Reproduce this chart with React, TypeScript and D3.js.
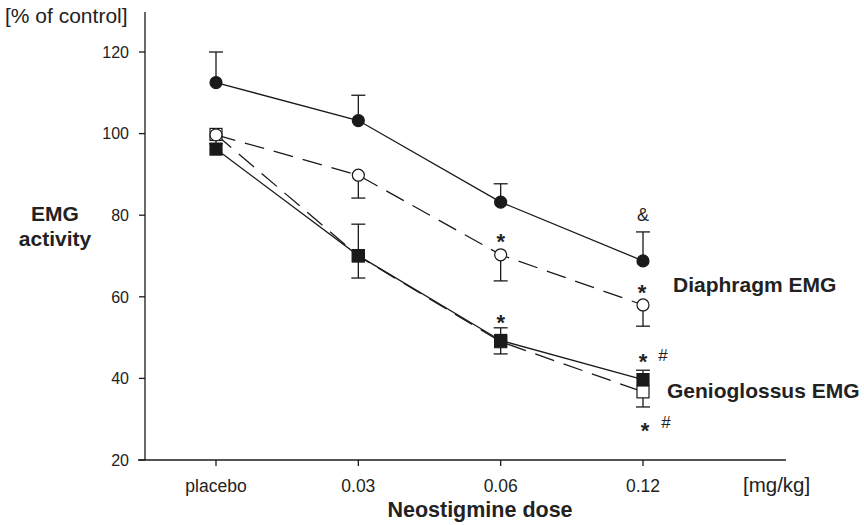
import React from "react";
import * as d3 from "d3";

const categories = ["placebo", "0.03", "0.06", "0.12"];
const yTicks = [20, 40, 60, 80, 100, 120];

// Diaphragm EMG (filled circles, solid line), upper SEM
const diaFilled = [112.5, 103.2, 83.2, 68.8];
const diaFilledUp = [120, 109.4, 87.7, 75.9];
// Diaphragm EMG (open circles, dashed line), lower SEM
const diaOpen = [99.7, 89.8, 70.3, 58.0];
const diaOpenDown = [97.5, 84.2, 63.9, 52.8];
// Genioglossus EMG (filled squares, solid line), upper SEM
const genFilled = [96.2, 70.1, 49.3, 39.7];
const genFilledUp = [96.2, 77.8, 52.4, 42.0];
// Genioglossus EMG (open squares, dashed line), lower SEM
const genOpen = [99.8, 70.0, 49.0, 36.7];
const genOpenDown = [99.8, 64.6, 46.0, 33.0];

const annotations = [
  { cat: "0.06", value: 74.5, text: "*", dx: 0 },
  { cat: "0.12", value: 62.0, text: "*", dx: -1 },
  { cat: "0.06", value: 54.6, text: "*", dx: 0 },
  { cat: "0.12", value: 80.0, text: "&", dx: 0 },
  { cat: "0.12", value: 45.0, text: "*", dx: 0 },
  { cat: "0.12", value: 28.2, text: "*", dx: 2 },
];
const hashes = [
  { cat: "0.12", value: 45.8, text: "#", dx: 20 },
  { cat: "0.12", value: 29.2, text: "#", dx: 23 },
];

const FONT = "'Liberation Sans', Arial, Helvetica, sans-serif";

export default function App() {
  const x = d3.scalePoint<string>().domain(categories).range([216, 643]);
  const y = d3.scaleLinear().domain([20, 120]).range([460, 52]);
  const axisTop = 12;
  const axisX = 145;
  const line = d3
    .line<number>()
    .x((_, i) => x(categories[i]) as number)
    .y((d) => y(d));

  const stroke = "#1a1a1a";
  const txt = "#222";
  const lw = 1.3;
  const dash = "20,10";

  const errBars = (vals: number[], ends: number[], key: string) =>
    vals.map((v, i) => {
      const cx = x(categories[i]) as number;
      if (Math.abs(ends[i] - v) < 0.01) return null;
      return (
        <g key={key + i}>
          <line x1={cx} x2={cx} y1={y(v)} y2={y(ends[i])} stroke={stroke} strokeWidth={lw} />
          <line x1={cx - 7} x2={cx + 7} y1={y(ends[i])} y2={y(ends[i])} stroke={stroke} strokeWidth={lw} />
        </g>
      );
    });

  return (
    <svg
      width={864}
      height={525}
      style={{ position: "absolute", left: 0, top: 0, background: "#fff" }}
      fontFamily={FONT}
    >
      {/* axes */}
      <line x1={axisX} x2={axisX} y1={axisTop} y2={460} stroke={stroke} strokeWidth={1.3} />
      <line x1={138} x2={786} y1={460} y2={460} stroke={stroke} strokeWidth={1.3} />
      {yTicks.map((t) => (
        <g key={"yt" + t}>
          <line x1={axisX - 6} x2={axisX} y1={y(t)} y2={y(t)} stroke={stroke} strokeWidth={1.3} />
          <text x={axisX - 16} y={y(t) + 5.8} textAnchor="end" fontSize={16} fill={txt}>
            {t}
          </text>
        </g>
      ))}
      {categories.map((c) => (
        <g key={"xt" + c}>
          <line x1={x(c)} x2={x(c)} y1={460} y2={466} stroke={stroke} strokeWidth={1.3} />
          <text x={x(c)} y={492} textAnchor="middle" fontSize={17.5} fill={txt}>
            {c}
          </text>
        </g>
      ))}
      <text x={743} y={492} fontSize={20.5} fill={txt}>[mg/kg]</text>
      <text x={480} y={517} textAnchor="middle" fontSize={21.5} fontWeight="bold" fill={txt}>
        Neostigmine dose
      </text>
      <text x={5} y={23} fontSize={21} fill={txt}>[% of control]</text>
      <text x={55} y={221} textAnchor="middle" fontSize={21} fontWeight="bold" fill={txt}>EMG</text>
      <text x={55} y={246} textAnchor="middle" fontSize={21} fontWeight="bold" fill={txt}>activity</text>
      <text x={673} y={292} fontSize={21} fontWeight="bold" fill={txt}>
        Diaphragm EMG
      </text>
      <text x={667} y={398} fontSize={21} fontWeight="bold" fill={txt}>
        Genioglossus EMG
      </text>

      {/* error bars */}
      {errBars(diaFilled, diaFilledUp, "dfu")}
      {errBars(diaOpen, diaOpenDown, "dod")}
      {errBars(genFilled, genFilledUp, "gfu")}
      {errBars(genOpen, genOpenDown, "god")}

      {/* lines */}
      <path d={line(diaFilled) || ""} fill="none" stroke={stroke} strokeWidth={lw} />
      <path d={line(diaOpen) || ""} fill="none" stroke={stroke} strokeWidth={lw} strokeDasharray={dash} />
      <path d={line(genFilled) || ""} fill="none" stroke={stroke} strokeWidth={lw} />
      <path d={line(genOpen) || ""} fill="none" stroke={stroke} strokeWidth={lw} strokeDasharray={dash} />

      {/* markers */}
      {genOpen.map((v, i) => (
        <rect key={"go" + i} x={(x(categories[i]) as number) - 6} y={y(v) - 6} width={12} height={12}
          fill="#fff" stroke={stroke} strokeWidth={1.2} />
      ))}
      {genFilled.map((v, i) => (
        <rect key={"gf" + i} x={(x(categories[i]) as number) - 6} y={y(v) - 6} width={12} height={12}
          fill={stroke} stroke={stroke} strokeWidth={1.2} />
      ))}
      {diaOpen.map((v, i) => (
        <circle key={"do" + i} cx={x(categories[i])} cy={y(v)} r={6} fill="#fff" stroke={stroke} strokeWidth={1.2} />
      ))}
      {diaFilled.map((v, i) => (
        <circle key={"df" + i} cx={x(categories[i])} cy={y(v)} r={6} fill={stroke} stroke={stroke} strokeWidth={1.2} />
      ))}

      {/* significance marks */}
      {annotations.map((a, i) => (
        <text key={"an" + i} x={(x(a.cat) as number) + a.dx} y={y(a.value) + (a.text === "*" ? 11 : 6)}
          textAnchor="middle" fontSize={a.text === "*" ? 22 : 18} fontWeight={a.text === "*" ? "bold" : "normal"} fill={txt}>
          {a.text}
        </text>
      ))}
      {hashes.map((a, i) => (
        <text key={"hs" + i} x={(x(a.cat) as number) + a.dx} y={y(a.value) + 6}
          textAnchor="middle" fontSize={17} fill={txt}>
          {a.text}
        </text>
      ))}
    </svg>
  );
}
